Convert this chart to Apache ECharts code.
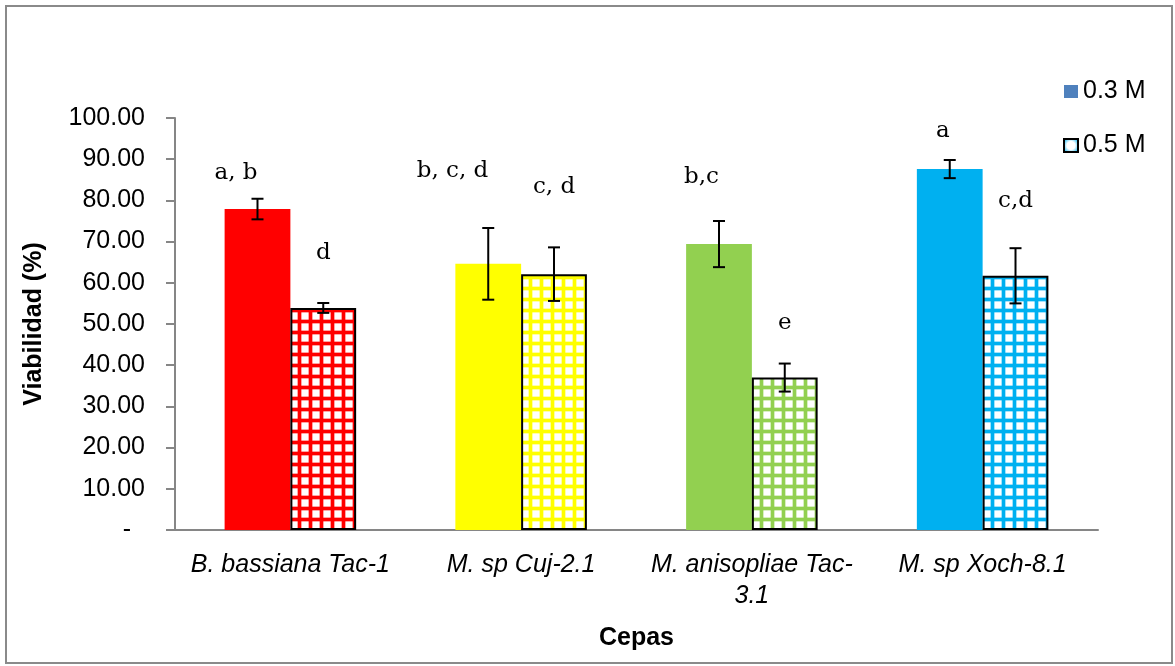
<!DOCTYPE html>
<html>
<head>
<meta charset="utf-8">
<script src="https://cdn.jsdelivr.net/npm/echarts@6/dist/echarts.min.js"></script>
<style>html,body{margin:0;padding:0;background:#fff}#c{width:1175px;height:666px}</style>
</head>
<body>
<div id="c"></div>
<script>
const categories = ['B. bassiana Tac-1', 'M. sp Cuj-2.1', 'M. anisopliae Tac-\n3.1', 'M. sp Xoch-8.1'];
const seriesNames = ['0.3 M', '0.5 M'];
const values03 = [77.9, 64.6, 69.4, 87.6];
const values05 = [53.9, 62.1, 37.0, 61.7];
const err03 = [2.5, 8.7, 5.6, 2.2];
const err05 = [1.2, 6.5, 3.4, 6.7];
const letters03 = ['a, b', 'b, c, d', 'b,c', 'a'];
const letters05 = ['d', 'c, d', 'e', 'c,d'];
const letterY03 = [86.6, 87.2, 85.7, 96.8];
const letterY05 = [67.2, 83.3, 50.2, 79.9];
const yTicks = [0, 10, 20, 30, 40, 50, 60, 70, 80, 90, 100];

const groupColors = ['#FF0000', '#FFFF00', '#92D050', '#00B0F0'];
const CAT_GAP = 0.43;

function gridPattern(color) {
  const s = 11;
  const cv = document.createElement('canvas');
  cv.width = s; cv.height = s;
  const ctx = cv.getContext('2d');
  ctx.fillStyle = '#ffffff';
  ctx.fillRect(0, 0, s, s);
  ctx.fillStyle = color;
  ctx.globalAlpha = 0.35;
  ctx.fillRect(0, 0, s, 5);
  ctx.fillRect(0, 0, 5, s);
  ctx.globalAlpha = 1;
  ctx.fillRect(0, 1, s, 3);
  ctx.fillRect(1, 0, 3, s);
  return cv;
}

const chart = echarts.init(document.getElementById('c'), null, {renderer: 'canvas'});

function barCenterOffset(api, which) {
  const band = api.size([1, 0])[0];
  const bw = band * (1 - CAT_GAP) / 2;
  return which === 0 ? -bw / 2 : bw / 2;
}

function errorSeries(values, errs, which) {
  return {
    type: 'custom',
    z: 10,
    silent: true,
    data: values.map((v, i) => [i, v, errs[i]]),
    renderItem: function (params, api) {
      const i = api.value(0), v = api.value(1), e = api.value(2);
      const top = api.coord([i, v + e]);
      const bot = api.coord([i, v - e]);
      const x = top[0] + barCenterOffset(api, which);
      const hw = 6;
      const st = {stroke: '#000', lineWidth: 2};
      return {
        type: 'group',
        children: [
          {type: 'line', shape: {x1: x, y1: top[1], x2: x, y2: bot[1]}, style: st},
          {type: 'line', shape: {x1: x - hw, y1: top[1], x2: x + hw, y2: top[1]}, style: st},
          {type: 'line', shape: {x1: x - hw, y1: bot[1], x2: x + hw, y2: bot[1]}, style: st}
        ]
      };
    }
  };
}

function letterSeries(letters, ys, which) {
  return {
    type: 'custom',
    z: 11,
    silent: true,
    data: ys.map((y, i) => [i, y]),
    renderItem: function (params, api) {
      const i = api.value(0), y = api.value(1);
      const p = api.coord([i, y]);
      const x = p[0] + barCenterOffset(api, which);
      return {
        type: 'text',
        style: {
          x: x, y: p[1],
          text: letters[params.dataIndex],
          fill: '#000',
          font: '23px "DejaVu Serif", serif',
          align: which === 0 ? 'right' : 'center',
          verticalAlign: 'middle'
        }
      };
    }
  };
}

const option = {
  animation: false,
  backgroundColor: '#ffffff',
  graphic: [{
    type: 'rect',
    shape: {x: 6, y: 6, width: 1166, height: 657},
    style: {fill: 'none', stroke: '#8a8a8a', lineWidth: 2},
    z: -1
  }],
  legend: {
    orient: 'vertical',
    left: 1063,
    top: 79,
    padding: 0,
    itemWidth: 14,
    itemHeight: 13,
    itemGap: 29,
    textStyle: {fontFamily: '"Liberation Sans", Arial, sans-serif', fontSize: 25, color: '#000'},
    data: [
      {name: seriesNames[0], icon: 'rect', itemStyle: {color: '#4F81BD', borderWidth: 0}},
      {name: seriesNames[1], icon: 'rect', itemStyle: {
        color: {type: 'radial', x: 0.5, y: 0.5, r: 0.6, colorStops: [{offset: 0, color: '#ffffff'}, {offset: 0.45, color: '#ffffff'}, {offset: 1, color: '#00B0F0'}]},
        borderColor: '#000', borderWidth: 2}}
    ]
  },
  grid: {left: 175, right: 77, top: 118, bottom: 136, containLabel: false},
  xAxis: {
    type: 'category',
    data: categories,
    axisLine: {lineStyle: {color: '#868686', width: 2}},
    axisTick: {show: false},
    axisLabel: {
      interval: 0,
      margin: 20,
      fontFamily: '"Liberation Sans", Arial, sans-serif',
      fontStyle: 'italic',
      fontSize: 25,
      lineHeight: 31,
      color: '#000'
    },
    name: 'Cepas',
    nameLocation: 'middle',
    nameGap: 96,
    nameTextStyle: {fontFamily: '"Liberation Sans", Arial, sans-serif', fontWeight: 'bold', fontSize: 25, color: '#000'}
  },
  yAxis: {
    type: 'value',
    min: yTicks[0],
    max: yTicks[yTicks.length - 1],
    interval: yTicks[1] - yTicks[0],
    splitLine: {show: false},
    axisLine: {show: true, lineStyle: {color: '#868686', width: 2}},
    axisTick: {show: true, inside: false, length: 9, lineStyle: {color: '#868686', width: 2}},
    axisLabel: {
      margin: 30,
      fontFamily: '"Liberation Sans", Arial, sans-serif',
      fontSize: 25,
      color: '#000',
      formatter: v => v === 0 ? '-  ' : v.toFixed(2)
    },
    name: 'Viabilidad (%)',
    nameLocation: 'middle',
    nameGap: 128,
    nameTextStyle: {fontFamily: '"Liberation Sans", Arial, sans-serif', fontWeight: 'bold', fontSize: 25, color: '#000'}
  },
  series: [
    {
      name: seriesNames[0],
      type: 'bar',
      barGap: '0%',
      barCategoryGap: (CAT_GAP * 100) + '%',
      data: values03.map((v, i) => ({value: v, itemStyle: {color: groupColors[i]}}))
    },
    {
      name: seriesNames[1],
      type: 'bar',
      barGap: '0%',
      barCategoryGap: (CAT_GAP * 100) + '%',
      data: values05.map((v, i) => ({value: v, itemStyle: {
        color: {image: gridPattern(groupColors[i]), repeat: 'repeat'},
        borderColor: '#000', borderWidth: 2
      }}))
    },
    errorSeries(values03, err03, 0),
    errorSeries(values05, err05, 1),
    letterSeries(letters03, letterY03, 0),
    letterSeries(letters05, letterY05, 1)
  ]
};
chart.setOption(option);
</script>
</body>
</html>
